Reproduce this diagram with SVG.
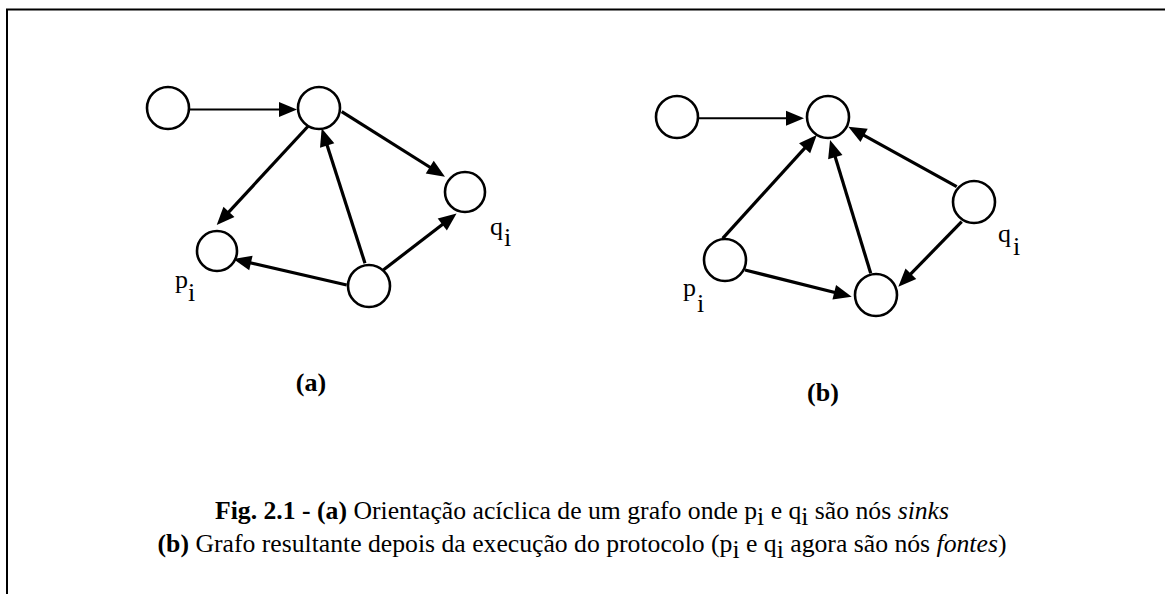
<svg xmlns="http://www.w3.org/2000/svg" width="1165" height="594" viewBox="0 0 1165 594">
<style>
.node{fill:#fff;stroke:#000;stroke-width:2.6}
.e{stroke:#000;stroke-width:3.2;fill:none;marker-end:url(#ah)}
.e.thin{stroke-width:2}
.lbl{font-family:"Liberation Serif","Times New Roman",serif;font-size:26px;fill:#000}
.cap{font-family:"Liberation Serif","Times New Roman",serif;font-size:25.7px;fill:#000}
.b{font-weight:bold}
.it{font-style:italic}
</style>
<defs>
<marker id="ah" markerUnits="userSpaceOnUse" markerWidth="18" markerHeight="15" refX="12" refY="7.5" orient="auto" overflow="visible">
<path d="M0,0 L18,7.5 L0,15 z" fill="#000"/>
</marker>
</defs>
<rect width="1165" height="594" fill="#fff"/>
<g id="frame" stroke="#000" stroke-width="2" fill="none">
<path d="M7,594 V9.5 H1165"/>
</g>
<g id="connectors">
<!-- graph (a) -->
<line class="e thin" x1="189" y1="109.5" x2="291" y2="109.5"/>
<line class="e" x1="308.3" y1="126" x2="220.8" y2="220.6"/>
<line class="e" x1="365" y1="263.3" x2="323.5" y2="134"/>
<line class="e" x1="341.7" y1="111.7" x2="439.9" y2="173.5"/>
<line class="e" x1="346.7" y1="285" x2="239.2" y2="260.3"/>
<line class="e" x1="383.3" y1="270" x2="451.8" y2="217.2"/>
<!-- graph (b) -->
<line class="e thin" x1="698.3" y1="118.3" x2="798" y2="118.3"/>
<line class="e" x1="722.7" y1="238.3" x2="812.7" y2="139.4"/>
<line class="e" x1="870.7" y1="273.3" x2="831.8" y2="145.7"/>
<line class="e" x1="956.7" y1="186.7" x2="853.6" y2="129.6"/>
<line class="e" x1="961.7" y1="221.7" x2="902.5" y2="282.4"/>
<line class="e" x1="745" y1="270" x2="845.9" y2="295.2"/>
</g>
<g id="a-n1"><circle class="node" cx="168" cy="108" r="21"/></g>
<g id="a-n2"><circle class="node" cx="319" cy="108" r="21"/></g>
<g id="a-q"><circle class="node" cx="465" cy="192" r="20"/>
<text class="lbl" x="490" y="235">q</text><text class="lbl" x="504" y="246">i</text></g>
<g id="a-p"><circle class="node" cx="217" cy="251" r="20"/>
<text class="lbl" x="175" y="288">p</text><text class="lbl" x="188" y="301">i</text></g>
<g id="a-n5"><circle class="node" cx="369" cy="286" r="21"/></g>
<g id="b-n1"><circle class="node" cx="677" cy="117" r="21"/></g>
<g id="b-n2"><circle class="node" cx="828" cy="117" r="21"/></g>
<g id="b-q"><circle class="node" cx="974" cy="202" r="21"/>
<text class="lbl" x="998" y="242">q</text><text class="lbl" x="1013" y="255">i</text></g>
<g id="b-p"><circle class="node" cx="725" cy="260" r="21"/>
<text class="lbl" x="683" y="296">p</text><text class="lbl" x="697" y="312">i</text></g>
<g id="b-n5"><circle class="node" cx="876" cy="295" r="21"/></g>
<g id="label-a"><text class="lbl b" x="311" y="391" text-anchor="middle" font-size="23">(a)</text></g>
<g id="label-b"><text class="lbl b" x="823" y="401" text-anchor="middle" font-size="23">(b)</text></g>
<g id="caption">
<text class="cap" x="582" y="519" text-anchor="middle"><tspan class="b">Fig. 2.1 - (a)</tspan> Orientação acíclica de um grafo onde p<tspan dy="6">i</tspan><tspan dy="-6"> e q</tspan><tspan dy="6">i</tspan><tspan dy="-6"> são nós </tspan><tspan class="it">sinks</tspan></text>
<text class="cap" x="582" y="552" text-anchor="middle"><tspan class="b">(b)</tspan> Grafo resultante depois da execução do protocolo (p<tspan dy="6">i</tspan><tspan dy="-6"> e q</tspan><tspan dy="6">i</tspan><tspan dy="-6"> agora são nós </tspan><tspan class="it">fontes</tspan>)</text>
</g>
</svg>
